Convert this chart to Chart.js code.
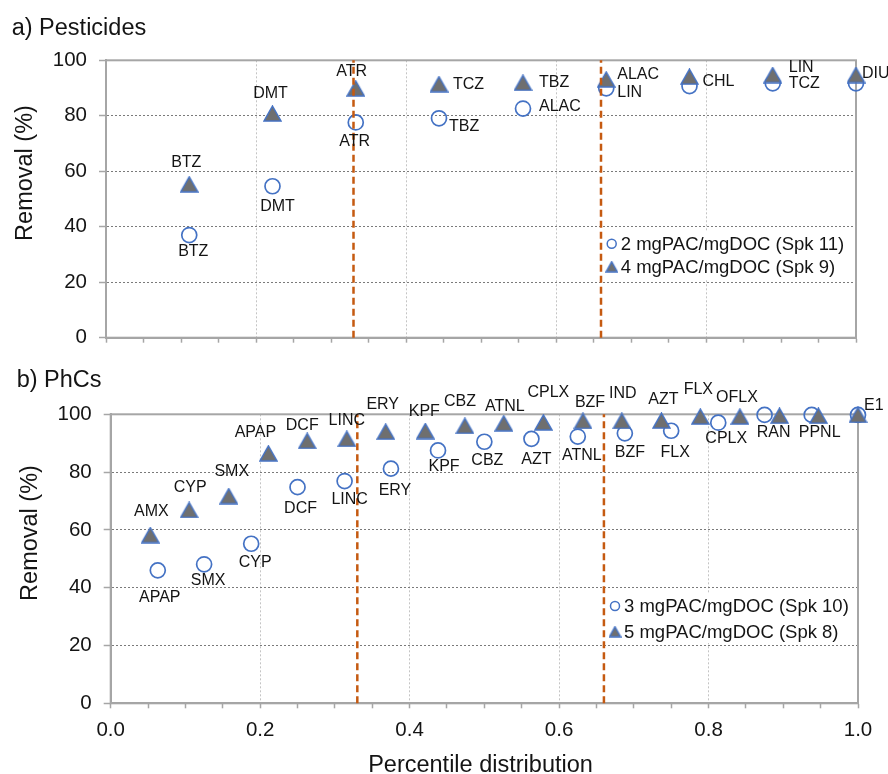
<!DOCTYPE html>
<html>
<head>
<meta charset="utf-8">
<script src="https://cdn.jsdelivr.net/npm/chart.js@4.4.1/dist/chart.umd.min.js"></script>
<style>
  body { margin: 0; background: #fff; }
  #wrap { position: relative; width: 888px; height: 774px; }
  canvas { position: absolute; left: 0; }
</style>
</head>
<body>
<div id="wrap">
  <canvas id="pest" width="888" height="362" style="top:0"></canvas>
  <canvas id="phc" width="888" height="424" style="top:350px"></canvas>
</div>
<script>
// ---- data ----
const splits = [0.33, 0.66];

// a) pesticides
const pestX = [0.111, 0.222, 0.333, 0.444, 0.556, 0.667, 0.778, 0.889, 1.0];
const pest2Names = ['BTZ', 'DMT', 'ATR', 'TBZ', 'ALAC', 'LIN', 'CHL', 'TCZ', 'DIU'];
const pest2Removal = [37.0, 54.6, 77.6, 79.1, 82.6, 89.9, 90.7, 91.7, 91.7];
const pest4Names = ['BTZ', 'DMT', 'ATR', 'TCZ', 'TBZ', 'ALAC', 'CHL', 'LIN', 'DIU'];
const pest4Removal = [55.3, 80.8, 89.9, 91.4, 91.9, 93.1, 94.1, 94.7, 94.7];
const pest2Label = '2 mgPAC/mgDOC (Spk 11)';
const pest4Label = '4 mgPAC/mgDOC (Spk 9)';

// b) PhCs
const phcX3 = [0.063, 0.125, 0.188, 0.25, 0.313, 0.375, 0.438, 0.5, 0.563, 0.625, 0.688, 0.75, 0.813, 0.875, 0.938, 1.0];
const phc3Names = ['APAP', 'SMX', 'CYP', 'DCF', 'LINC', 'ERY', 'KPF', 'CBZ', 'AZT', 'ATNL', 'BZF', 'FLX', 'CPLX', 'RAN', 'PPNL', 'E1'];
const phc3Removal = [46.0, 48.1, 55.2, 74.8, 76.9, 81.2, 87.5, 90.5, 91.5, 92.3, 93.4, 94.3, 97.1, 99.8, 99.8, 99.8];
const phcX5 = [0.053, 0.105, 0.158, 0.211, 0.263, 0.316, 0.368, 0.421, 0.474, 0.526, 0.579, 0.632, 0.684, 0.737, 0.789, 0.842, 0.895, 0.947, 1.0];
const phc5Names = ['AMX', 'CYP', 'SMX', 'APAP', 'DCF', 'LINC', 'ERY', 'KPF', 'CBZ', 'ATNL', 'CPLX', 'BZF', 'IND', 'AZT', 'FLX', 'OFLX', 'RAN', 'PPNL', 'E1'];
const phc5Removal = [58.2, 66.9, 71.7, 86.5, 90.8, 91.5, 94.0, 94.2, 96.0, 96.9, 97.2, 97.7, 97.7, 97.8, 99.2, 99.2, 99.5, 99.5, 99.8];
const phc3Label = '3 mgPAC/mgDOC (Spk 10)';
const phc5Label = '5 mgPAC/mgDOC (Spk 8)';

// ---- label placement: [align, dx, dy] from the marker, null = not drawn ----
const pest2Place = [['c',4,17], ['c',5,20], ['c',-1,19], ['l',10,8], ['l',16,-2], ['l',11,4], null, ['l',16,0], null];
const pest4Place = [['c',-3,-22], ['c',-2,-20], ['c',-4,-17], ['l',14,0], ['l',16,0], ['l',11,-5], ['l',13,5], ['l',16,-7], ['l',6,-1]];
const phc3Place = [['c',2,27], ['c',4,16], ['c',4,19], ['c',3,21], ['c',5,19], ['c',4,22], ['c',6,16], ['c',3,19],
                   ['c',5,21], ['c',4,19], ['c',5,19], ['c',4,22], ['c',8,16], ['c',9,18], ['c',8,18], null];
const phc5Place = [['c',1,-24], ['c',1,-22], ['c',3,-24], ['c',-13,-21], ['c',-5,-15], ['c',0,-18], ['c',-3,-27], ['c',-1,-19],
                   ['c',-5,-24], ['c',1,-17], ['c',5,-30], ['c',7,-18], ['c',1,-27], ['c',2,-21], ['c',-2,-27], ['c',-3,-19],
                   null, null, ['l',6,-9]];

// ---- styles ----
const FONT = "'Liberation Sans', Arial, sans-serif";
const blue = '#4472C4';
const triFill = '#6f6f6f';
const orange = '#C55A11';
const axisColor = '#a6a6a6';
const textColor = '#141414';

function triangleMarker(w, h) {
  const c = document.createElement('canvas');
  c.width = w; c.height = h;
  const g = c.getContext('2d');
  g.beginPath();
  g.moveTo(w / 2, 1);
  g.lineTo(w - 1, h - 1);
  g.lineTo(1, h - 1);
  g.closePath();
  g.fillStyle = triFill;
  g.fill();
  g.lineWidth = 1.5;
  g.strokeStyle = blue;
  g.stroke();
  return c;
}
const bigTri = triangleMarker(19, 17);
const smallTri = triangleMarker(13, 12);

const isMajor = v => Math.abs(v * 5 - Math.round(v * 5)) < 1e-6;
const pts = (xs, ys) => xs.map((x, i) => ({ x: x, y: ys[i] }));

// ---- plugins ----
const frame = {
  id: 'frame',
  beforeDatasetsDraw(chart) {
    const a = chart.chartArea, ctx = chart.ctx;
    ctx.save();
    ctx.strokeStyle = axisColor;
    ctx.lineWidth = 2;
    ctx.strokeRect(a.left, a.top, a.right - a.left, a.bottom - a.top);
    ctx.restore();
  }
};

const pointLabels = {
  id: 'pointLabels',
  afterDatasetsDraw(chart) {
    const ctx = chart.ctx;
    ctx.save();
    ctx.font = '16px ' + FONT;
    ctx.fillStyle = textColor;
    ctx.textBaseline = 'middle';
    chart.data.datasets.forEach((ds, i) => {
      if (!ds.names) return;
      chart.getDatasetMeta(i).data.forEach((el, j) => {
        const p = ds.place[j];
        if (!p) return;
        ctx.textAlign = p[0] === 'l' ? 'left' : 'center';
        ctx.fillText(ds.names[j], el.x + p[1], el.y + p[2]);
      });
    });
    ctx.restore();
  }
};

const boxLegend = {
  id: 'boxLegend',
  afterDraw(chart, args, opts) {
    const ctx = chart.ctx;
    ctx.save();
    ctx.fillStyle = '#fff';
    ctx.fillRect(opts.box[0], opts.box[1], opts.box[2], opts.box[3]);
    ctx.font = '18.5px ' + FONT;
    ctx.fillStyle = textColor;
    ctx.textBaseline = 'middle';
    ctx.textAlign = 'left';
    const items = chart.data.datasets.filter(d => d.names).sort((a, b) => a.legendRow - b.legendRow);
    items.forEach((d, i) => {
      const y = opts.y + i * opts.gap;
      if (d.pointStyle === 'circle') {
        ctx.beginPath();
        ctx.arc(opts.x, y, 4.5, 0, Math.PI * 2);
        ctx.strokeStyle = blue;
        ctx.lineWidth = 1.5;
        ctx.stroke();
      } else {
        ctx.drawImage(smallTri, opts.x - smallTri.width / 2, y - smallTri.height / 2);
      }
      ctx.fillText(d.label, opts.x + 9, y + 1);
    });
    ctx.restore();
  }
};

const texts = {
  id: 'texts',
  afterDraw(chart, args, opts) {
    const ctx = chart.ctx;
    ctx.save();
    ctx.fillStyle = textColor;
    ctx.font = '23.5px ' + FONT;
    ctx.textBaseline = 'alphabetic';
    opts.items.forEach(t => {
      ctx.save();
      ctx.translate(t.x, t.y);
      if (t.rot) ctx.rotate(-Math.PI / 2);
      ctx.textAlign = t.align;
      ctx.fillText(t.text, 0, 0);
      ctx.restore();
    });
    ctx.restore();
  }
};

function splitLines() {
  return splits.map(s => ({
    data: [{ x: s, y: 0 }, { x: s, y: 100 }],
    showLine: true,
    pointRadius: 0,
    borderColor: orange,
    borderWidth: 2.5,
    borderDash: [7, 4],
    order: -1,
    clip: false
  }));
}

function makeChart(id, circles, triangles, cfg) {
  const datasets = [
    {
      label: circles.label, data: circles.data, names: circles.names, place: circles.place, legendRow: 0,
      pointStyle: 'circle', pointRadius: 7.5, borderColor: blue, borderWidth: 1.7,
      backgroundColor: 'rgba(255,255,255,0)', order: 1, clip: false
    },
    {
      label: triangles.label, data: triangles.data, names: triangles.names, place: triangles.place, legendRow: 1,
      pointStyle: bigTri, pointRadius: 9, order: 0, clip: false
    }
  ].concat(splitLines());

  return new Chart(document.getElementById(id), {
    type: 'scatter',
    data: { datasets: datasets },
    options: {
      responsive: false,
      animation: false,
      events: [],
      layout: { padding: { top: cfg.top, right: cfg.right, left: 0, bottom: 0 } },
      plugins: {
        legend: { display: false },
        tooltip: { enabled: false },
        boxLegend: cfg.legend,
        texts: { items: cfg.texts }
      },
      scales: {
        x: {
          type: 'linear', min: 0, max: 1,
          afterFit: s => { s.height = cfg.xHeight; },
          border: { color: axisColor, width: 2, dash: [2, 2] },
          grid: {
            color: c => isMajor(c.tick.value) ? '#c4c4c4' : 'rgba(0,0,0,0)',
            tickColor: axisColor, tickLength: 5, tickWidth: 1.5
          },
          ticks: {
            stepSize: 0.05, autoSkip: false, maxRotation: 0, padding: 9.5,
            color: textColor, font: { family: FONT, size: 20.5 },
            callback: v => (cfg.xLabels && isMajor(v)) ? v.toFixed(1) : ''
          }
        },
        y: {
          min: 0, max: 100,
          afterFit: s => { s.width = cfg.yWidth; },
          border: { color: axisColor, width: 2, dash: [2, 2] },
          grid: {
            color: c => (c.tick.value > 0 && c.tick.value < 100) ? '#7a7a7a' : 'rgba(0,0,0,0)',
            tickColor: axisColor, tickLength: 7, tickWidth: 1.5
          },
          ticks: { stepSize: 20, padding: 12, color: textColor, font: { family: FONT, size: 20.5 } }
        }
      }
    },
    plugins: [frame, pointLabels, boxLegend, texts]
  });
}

makeChart('pest',
  { label: pest2Label, data: pts(pestX, pest2Removal), names: pest2Names, place: pest2Place },
  { label: pest4Label, data: pts(pestX, pest4Removal), names: pest4Names, place: pest4Place },
  {
    top: 60.3, right: 32, yWidth: 106, xHeight: 13, xLabels: false,
    legend: { x: 611.7, y: 243.7, gap: 23, box: [607, 231, 246, 48] },
    texts: [
      { text: 'a) Pesticides', x: 11.7, y: 35, align: 'left' },
      { text: 'Removal (%)', x: 32.3, y: 173, align: 'center', rot: true }
    ]
  });

makeChart('phc',
  { label: phc3Label, data: pts(phcX3, phc3Removal), names: phc3Names, place: phc3Place },
  { label: phc5Label, data: pts(phcX5, phc5Removal), names: phc5Names, place: phc5Place },
  {
    top: 64.3, right: 30, yWidth: 110.7, xHeight: 70.7, xLabels: true,
    legend: { x: 615, y: 256, gap: 25.7, box: [607, 243, 249, 50] },
    texts: [
      { text: 'b) PhCs', x: 16.7, y: 36.7, align: 'left' },
      { text: 'Removal (%)', x: 37.3, y: 183, align: 'center', rot: true },
      { text: 'Percentile distribution', x: 480.5, y: 422.3, align: 'center' }
    ]
  });
</script>
</body>
</html>
